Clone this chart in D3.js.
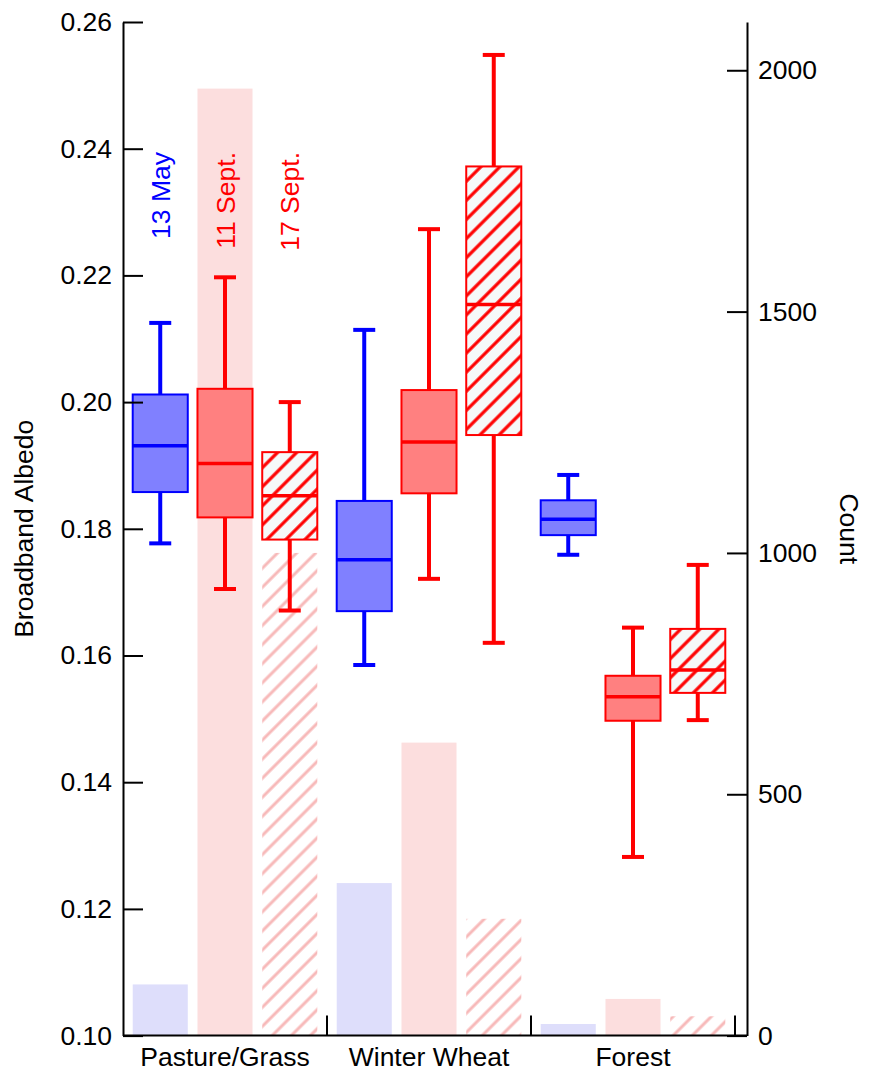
<!DOCTYPE html>
<html>
<head>
<meta charset="utf-8">
<script src="https://cdn.jsdelivr.net/npm/d3@7"></script>
<style>
  body { margin: 0; background: #fff; }
  svg text { font-family: "Liberation Sans", Arial, Helvetica, sans-serif; }
</style>
</head>
<body>
<div id="chart"></div>
<script>
// data
var categories = ["Pasture/Grass", "Winter Wheat", "Forest"];
var dates = ["13 May", "11 Sept.", "17 Sept."];

// box stats per category: [whisker low, q1, median, q3, whisker high]
var boxMay13 = [
    [0.1777, 0.1858, 0.1931, 0.2012, 0.2125],
    [0.1585, 0.1670, 0.1751, 0.1844, 0.2114],
    [0.1759, 0.1790, 0.1815, 0.1845, 0.1885]
];
var boxSept11 = [
    [0.1705, 0.1818, 0.1903, 0.2021, 0.2197],
    [0.1721, 0.1856, 0.1937, 0.2019, 0.2273],
    [0.1282, 0.1497, 0.1535, 0.1568, 0.1644]
];
var boxSept17 = [
    [0.1671, 0.1783, 0.1852, 0.1921, 0.2000],
    [0.1620, 0.1948, 0.2154, 0.2372, 0.2548],
    [0.1498, 0.1541, 0.1577, 0.1642, 0.1743]
];

// pixel counts (right axis)
var countMay13 = [106, 316, 24];
var countSept11 = [1962, 607, 76];
var countSept17 = [1000, 242, 40];

var leftTicks = [0.10, 0.12, 0.14, 0.16, 0.18, 0.20, 0.22, 0.24, 0.26];
var rightTicks = [0, 500, 1000, 1500, 2000];

//---------------------------------------------------------------------------
var W = 869, H = 1071;
var mLeft = 123, mRight = 747, mTop = 22, mBottom = 1035.6;
var fs = 26.5; // font size used everywhere

var series = [
    { date: dates[0], box: boxMay13, count: countMay13, line: "#0000ff", fill: "#8080ff", bar: "#dedefb" },
    { date: dates[1], box: boxSept11, count: countSept11, line: "#ff0000", fill: "#ff8080", bar: "#fcdede" },
    { date: dates[2], box: boxSept17, count: countSept17, line: "#ff0000", fill: "url(#hatchBox)", bar: "url(#hatchBar)" }
];

var svg = d3.select("#chart").append("svg")
    .attr("width", W)
    .attr("height", H);

// hatch patterns ( "/" lines )
var hs = 13.5;
var defs = svg.append("defs");
var pb = defs.append("pattern")
    .attr("id", "hatchBox")
    .attr("patternUnits", "userSpaceOnUse")
    .attr("width", hs).attr("height", hs)
    .attr("patternTransform", "rotate(45)");
pb.append("rect").attr("width", hs).attr("height", hs).attr("fill", "#f6f9f9");
pb.append("line").attr("x1", hs / 2).attr("y1", 0).attr("x2", hs / 2).attr("y2", hs)
    .attr("stroke", "#ff0000").attr("stroke-width", 3.2);

var ph = defs.append("pattern")
    .attr("id", "hatchBar")
    .attr("patternUnits", "userSpaceOnUse")
    .attr("width", hs).attr("height", hs)
    .attr("patternTransform", "rotate(45)");
ph.append("line").attr("x1", hs / 2).attr("y1", 0).attr("x2", hs / 2).attr("y2", hs)
    .attr("stroke", "#f7b9b9").attr("stroke-width", 3);

// scales
var x0 = d3.scaleBand().domain(categories).range([mLeft, 735]);
var x1 = d3.scaleBand().domain(dates).range([0, x0.bandwidth()])
    .paddingInner(0.15).paddingOuter(0.15);
var y = d3.scaleLinear().domain([0.10, 0.26]).range([mBottom, mTop]);
var yc = d3.scaleLinear().domain([0, 2100]).range([mBottom, mTop]);

// count bars
series.forEach(function(s) {
    svg.append("g").selectAll("rect")
        .data(s.count).enter()
        .append("rect")
        .attr("x", function(d, i) { return x0(categories[i]) + x1(s.date); })
        .attr("y", function(d) { return yc(d); })
        .attr("width", x1.bandwidth())
        .attr("height", function(d) { return yc(0) - yc(d); })
        .attr("fill", s.bar);
});

// box plots
var capW = 22;
series.forEach(function(s) {
    var g = svg.append("g").selectAll("g")
        .data(s.box).enter()
        .append("g")
        .attr("transform", function(d, i) {
            return "translate(" + (x0(categories[i]) + x1(s.date)) + ",0)";
        });
    var bw = x1.bandwidth(), cx = bw / 2;

    // whiskers
    g.append("line")
        .attr("x1", cx).attr("x2", cx)
        .attr("y1", function(d) { return y(d[0]); })
        .attr("y2", function(d) { return y(d[1]); })
        .attr("stroke", s.line).attr("stroke-width", 4);
    g.append("line")
        .attr("x1", cx).attr("x2", cx)
        .attr("y1", function(d) { return y(d[3]); })
        .attr("y2", function(d) { return y(d[4]); })
        .attr("stroke", s.line).attr("stroke-width", 4);
    // caps
    [0, 4].forEach(function(k) {
        g.append("line")
            .attr("x1", cx - capW / 2).attr("x2", cx + capW / 2)
            .attr("y1", function(d) { return y(d[k]); })
            .attr("y2", function(d) { return y(d[k]); })
            .attr("stroke", s.line).attr("stroke-width", 4);
    });
    // box
    g.append("rect")
        .attr("x", 0)
        .attr("y", function(d) { return y(d[3]); })
        .attr("width", bw)
        .attr("height", function(d) { return y(d[1]) - y(d[3]); })
        .attr("fill", s.fill)
        .attr("stroke", s.line).attr("stroke-width", 2);
    // median
    g.append("line")
        .attr("x1", 0).attr("x2", bw)
        .attr("y1", function(d) { return y(d[2]); })
        .attr("y2", function(d) { return y(d[2]); })
        .attr("stroke", s.line).attr("stroke-width", 3.5);
});

// date labels
series.forEach(function(s) {
    var cx = x0(categories[0]) + x1(s.date) + x1.bandwidth() / 2 + 9.5;
    svg.append("text")
        .attr("transform", "translate(" + cx + ",152) rotate(-90)")
        .attr("text-anchor", "end")
        .attr("font-size", fs)
        .attr("fill", s.line)
        .text(s.date);
});

// left axis
var axL = svg.append("g")
    .attr("transform", "translate(" + mLeft + ",0)")
    .call(d3.axisLeft(y).tickValues(leftTicks).tickFormat(d3.format(".2f"))
        .tickSizeInner(-20).tickSizeOuter(0).tickPadding(11));
// right axis
var axR = svg.append("g")
    .attr("transform", "translate(" + mRight + ",0)")
    .call(d3.axisRight(yc).tickValues(rightTicks).tickFormat(d3.format("d"))
        .tickSizeInner(-20).tickSizeOuter(0).tickPadding(11));

[axL, axR].forEach(function(ax) {
    ax.select(".domain").attr("stroke", "#000").attr("stroke-width", 2);
    ax.selectAll(".tick line").attr("stroke", "#000").attr("stroke-width", 2);
    ax.selectAll(".tick text")
        .attr("font-size", fs)
        .attr("font-family", "Liberation Sans, Arial, sans-serif")
        .attr("fill", "#000");
});

// bottom axis with group separators
svg.append("line")
    .attr("x1", mLeft).attr("x2", mRight)
    .attr("y1", mBottom).attr("y2", mBottom)
    .attr("stroke", "#000").attr("stroke-width", 2);
svg.append("g").selectAll("line")
    .data(categories).enter()
    .append("line")
    .attr("x1", function(d) { return x0(d) + x0.bandwidth(); })
    .attr("x2", function(d) { return x0(d) + x0.bandwidth(); })
    .attr("y1", mBottom).attr("y2", mBottom - 20)
    .attr("stroke", "#000").attr("stroke-width", 2);
svg.append("g").selectAll("text")
    .data(categories).enter()
    .append("text")
    .attr("x", function(d) { return x0(d) + x0.bandwidth() / 2; })
    .attr("y", 1066)
    .attr("text-anchor", "middle")
    .attr("font-size", fs)
    .text(function(d) { return d; });

// axis titles
svg.append("text")
    .attr("transform", "translate(33," + (mTop + mBottom) / 2 + ") rotate(-90)")
    .attr("text-anchor", "middle")
    .attr("font-size", fs)
    .text("Broadband Albedo");
svg.append("text")
    .attr("transform", "translate(840," + (mTop + mBottom) / 2 + ") rotate(90)")
    .attr("text-anchor", "middle")
    .attr("font-size", fs)
    .text("Count");
</script>
</body>
</html>
